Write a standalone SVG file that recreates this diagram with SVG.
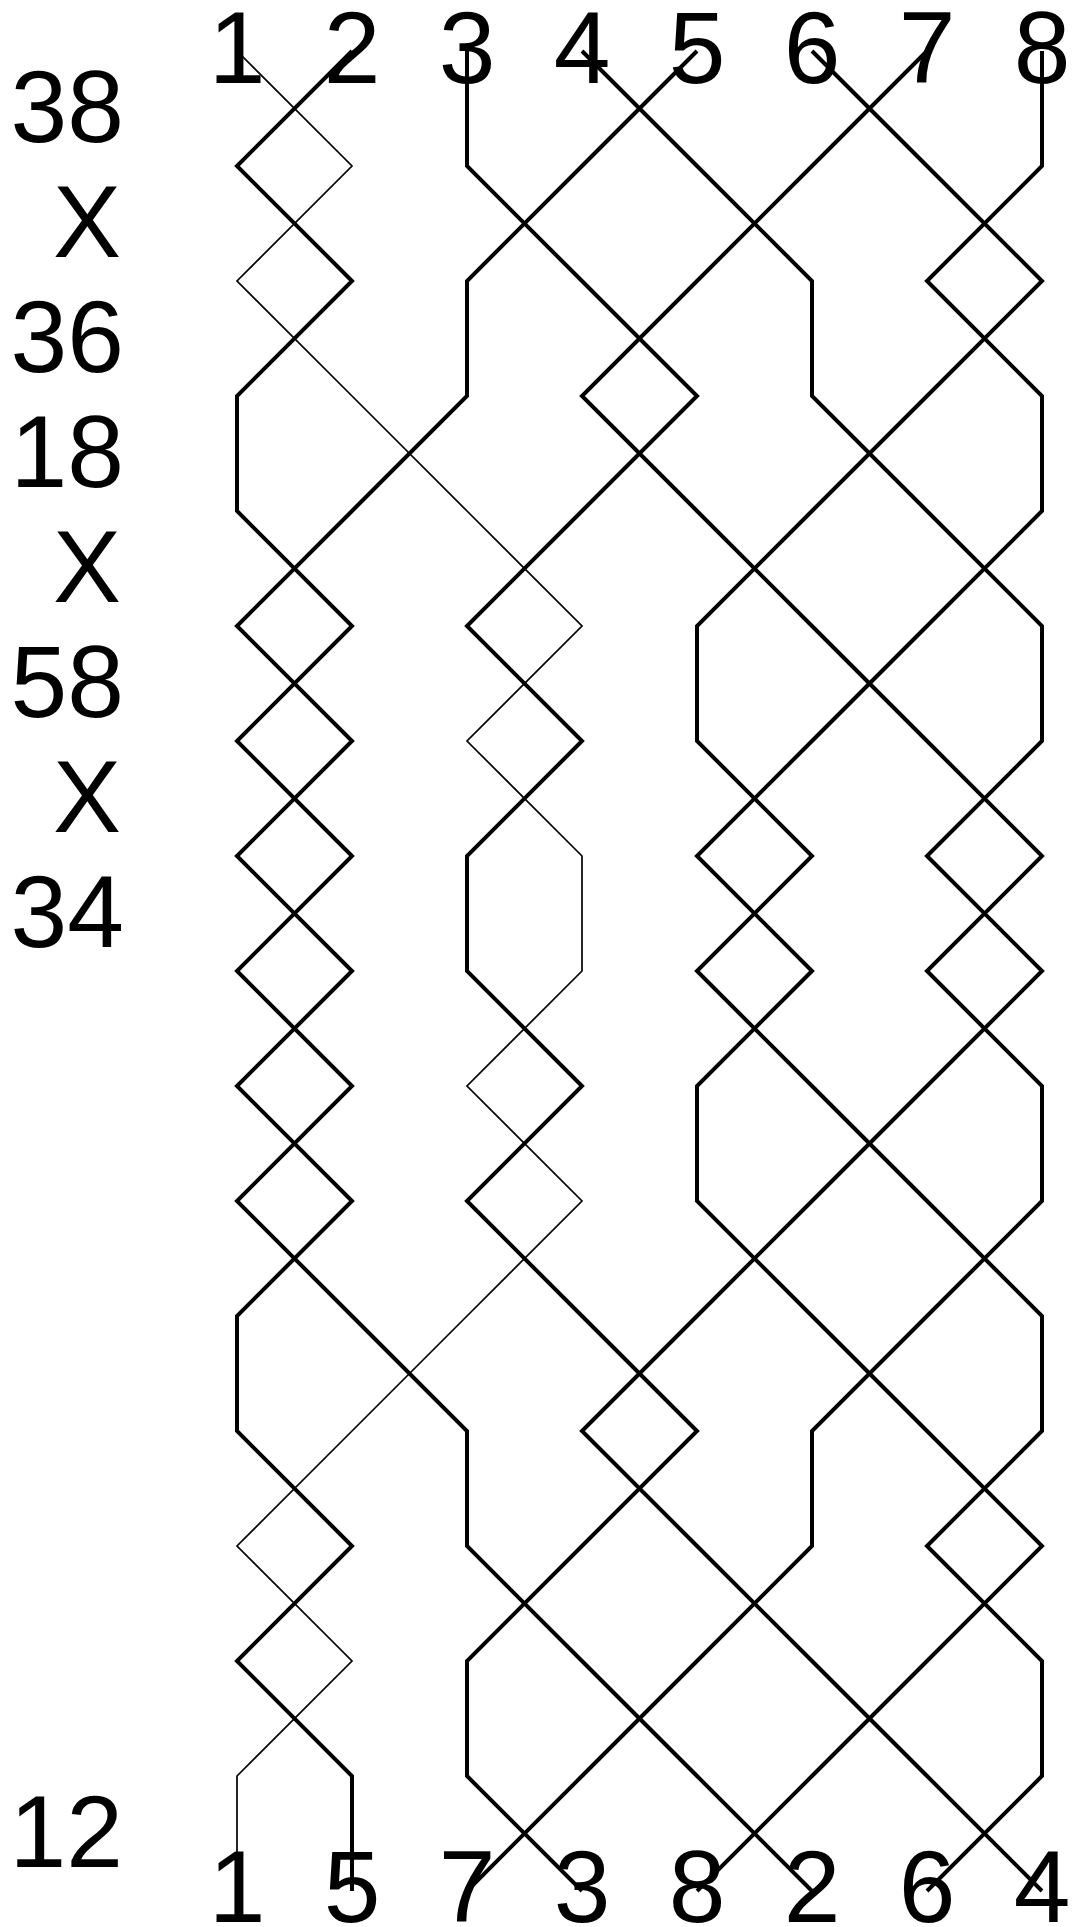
<svg xmlns="http://www.w3.org/2000/svg" width="1075" height="1927" viewBox="0 0 1075 1927">
<style>
  .lbl { font-family: "Liberation Sans", Arial, sans-serif; font-size: 102px; fill: #000; }
  .mid { text-anchor: middle; }
  .end { text-anchor: end; }
  .strand { fill: none; stroke: #000; stroke-linejoin: miter; stroke-linecap: butt; }
  .thick { stroke-width: 4; }
  .thin { stroke-width: 1.7; }
</style>
<rect width="1075" height="1927" fill="#fff"/>

<g id="strands">
  <polyline id="strand-1" class="strand thin" points="237,51 352,166 237,281 352,396 467,511 582,626 467,741 582,856 582,971 467,1086 582,1201 467,1316 352,1431 237,1546 352,1661 237,1776 237,1891"/>
  <polyline id="strand-2" class="strand thick" points="352,51 237,166 352,281 237,396 237,511 352,626 237,741 352,856 237,971 352,1086 237,1201 352,1316 467,1431 467,1546 582,1661 697,1776 812,1891"/>
  <polyline id="strand-3" class="strand thick" points="467,51 467,166 582,281 697,396 582,511 467,626 582,741 467,856 467,971 582,1086 467,1201 582,1316 697,1431 582,1546 467,1661 467,1776 582,1891"/>
  <polyline id="strand-4" class="strand thick" points="582,51 697,166 812,281 812,396 927,511 1042,626 1042,741 927,856 1042,971 927,1086 812,1201 697,1316 582,1431 697,1546 812,1661 927,1776 1042,1891"/>
  <polyline id="strand-5" class="strand thick" points="697,51 582,166 467,281 467,396 352,511 237,626 352,741 237,856 352,971 237,1086 352,1201 237,1316 237,1431 352,1546 237,1661 352,1776 352,1891"/>
  <polyline id="strand-6" class="strand thick" points="812,51 927,166 1042,281 927,396 812,511 697,626 697,741 812,856 697,971 812,1086 927,1201 1042,1316 1042,1431 927,1546 1042,1661 1042,1776 927,1891"/>
  <polyline id="strand-7" class="strand thick" points="927,51 812,166 697,281 582,396 697,511 812,626 927,741 1042,856 927,971 1042,1086 1042,1201 927,1316 812,1431 812,1546 697,1661 582,1776 467,1891"/>
  <polyline id="strand-8" class="strand thick" points="1042,51 1042,166 927,281 1042,396 1042,511 927,626 812,741 697,856 812,971 697,1086 697,1201 812,1316 927,1431 1042,1546 927,1661 812,1776 697,1891"/>
</g>

<g id="top-labels" class="lbl mid">
  <text x="237" y="83">1</text>
  <text x="352" y="83">2</text>
  <text x="467" y="83">3</text>
  <text x="582" y="83">4</text>
  <text x="697" y="83">5</text>
  <text x="812" y="83">6</text>
  <text x="927" y="83">7</text>
  <text x="1042" y="83">8</text>
</g>

<g id="bottom-labels" class="lbl mid">
  <text x="237" y="1922">1</text>
  <text x="352" y="1922">5</text>
  <text x="467" y="1922">7</text>
  <text x="582" y="1922">3</text>
  <text x="697" y="1922">8</text>
  <text x="812" y="1922">2</text>
  <text x="927" y="1922">6</text>
  <text x="1042" y="1922">4</text>
</g>

<g id="left-labels" class="lbl end">
  <text x="124" y="141.5">38</text>
  <text x="121" y="256.5">X</text>
  <text x="124" y="371.5">36</text>
  <text x="124" y="486.5">18</text>
  <text x="121" y="601.5">X</text>
  <text x="124" y="716.5">58</text>
  <text x="121" y="831.5">X</text>
  <text x="124" y="946.5">34</text>
  <text x="123" y="1866.5">12</text>
</g>
</svg>
